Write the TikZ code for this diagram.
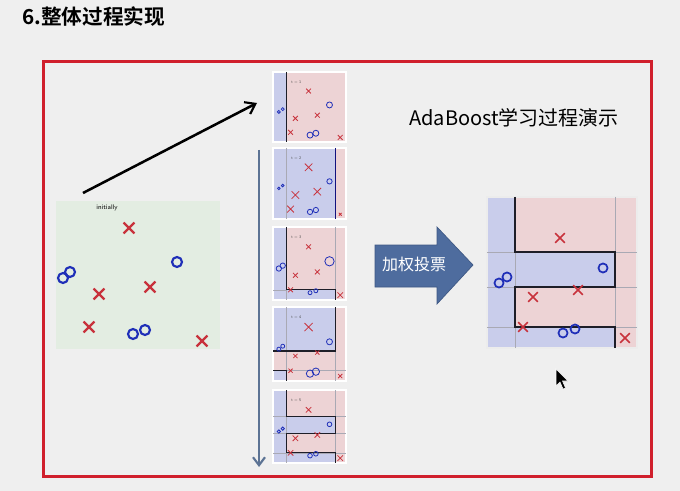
\documentclass[tikz,border=0pt]{standalone}
\usepackage{fontspec}
\newfontfamily\cjk{Noto Sans CJK SC}
\newfontfamily\cjkb{Noto Sans CJK SC Bold}
\usetikzlibrary{arrows.meta,shapes.misc}
\definecolor{bg}{HTML}{EFEFEF}
\definecolor{framec}{HTML}{D01F2C}
\definecolor{xred}{HTML}{C8323C}
\definecolor{oblue}{HTML}{1F2FB8}
\definecolor{pblue}{HTML}{C9CDEB}
\definecolor{ppink}{HTML}{EDD3D5}
\definecolor{pgreen}{HTML}{E3EDE2}
\definecolor{gridc}{HTML}{A9A9B4}
\definecolor{barrow}{HTML}{4E6C9E}
\definecolor{barrowd}{HTML}{3E5884}
\definecolor{varrow}{HTML}{5C7394}
\definecolor{bnd}{HTML}{1E1E28}
\newcount\mk
\def\lw{0.6pt}
\newcommand\mkX[4]{\global\advance\mk by 1 \node[cross out,draw=xred,inner sep=0pt,minimum size=#3,line width=#4] (m\the\mk) at (#1,#2) {};}
\newcommand\mkO[4]{\global\advance\mk by 1 \node[circle,draw=oblue,inner sep=0pt,minimum size=#3,line width=#4] (m\the\mk) at (#1,#2) {};}
\newcommand\pts[8]{%
  \mkX{73}{41}{#1pt}{\lw}
  \mkO{116}{71}{#2pt}{\lw}
  \mkO{12}{86}{#3pt}{\lw}\mkO{20}{80}{#3pt}{\lw}
  \mkX{46}{100}{#4pt}{\lw}
  \mkX{91}{93}{#5pt}{\lw}
  \mkX{36}{130}{#6pt}{\lw}
  \mkO{76}{136}{#7pt}{\lw}\mkO{88}{132}{#7pt}{\lw}
  \mkX{138}{141}{#8pt}{\lw}}
\tikzset{
  gridln/.style={draw=gridc,line width=0.4pt},
  bndln/.style={draw=bnd,line width=1pt,line join=miter},
  tlabel/.style={font=\sffamily\fontsize{3}{3}\selectfont,text=black!70,inner sep=0pt},
  pframe/.style={draw=white,line width=1.2pt}
}
\begin{document}
\begin{tikzpicture}[x=0.75pt,y=-0.75pt]
\fill[bg] (0,0) rectangle (680,491);
\useasboundingbox (0,0) rectangle (680,491);
% title
\node[anchor=west,inner sep=0pt,font=\cjkb\fontsize{15.5}{16}\selectfont] (title) at (22,17) {6.整体过程实现};
% red frame
\draw[framec,line width=2.25pt] (43,62) rectangle (651,476);
% left panel
\fill[pgreen] (56,201) rectangle (220,349);
\node[font=\sffamily\fontsize{5}{5}\selectfont,inner sep=0pt] (init) at (107,208) {initially};
\def\lw{1.6pt}
\mkX{129}{228}{6.5pt}{\lw}
\mkX{99}{294}{6.5pt}{\lw}
\mkX{150}{287}{6.5pt}{\lw}
\mkX{89}{327}{6.5pt}{\lw}
\mkX{202}{341}{6.5pt}{\lw}
\mkO{177}{262}{7.5pt}{\lw}
\mkO{63}{278}{7.5pt}{\lw}
\mkO{70}{272}{7.5pt}{\lw}
\mkO{133}{334}{7.5pt}{\lw}
\mkO{145}{330}{7.5pt}{\lw}
% black arrow
\coordinate (a1s) at (83,193);
\coordinate (a1e) at (257,103);
\draw[line width=1.9pt,-{Straight Barb[length=7pt,width=10pt,line width=1.6pt]}] (a1s) -- (a1e);
% vertical arrow
\coordinate (a2s) at (259,150);
\coordinate (a2e) at (259,467);
\draw[varrow,line width=1.9pt,-{Straight Barb[length=6pt,width=9pt,line width=1.6pt]}] (a2s) -- (a2e);
% ---------- small panel 1
\begin{scope}[shift={(273,72)},xscale=0.487,yscale=0.464]
  \fill[pblue] (0,0) rectangle (150,151);
  \fill[ppink] (28,0) rectangle (150,151);
  \draw[pframe] (0,0) rectangle (150,151);
  \draw[bndln] (28,0) -- (28,151);
  \node[tlabel] (t1) at (48,21) {t = 1};
  \def\lw{0.6pt}
  \pts{3}{4.5}{2.2}{3}{3}{3}{4.5}{3}
\end{scope}
% ---------- small panel 2
\begin{scope}[shift={(273,148)},xscale=0.487,yscale=0.470]
  \fill[pblue] (0,0) rectangle (150,151);
  \fill[ppink] (128,0) rectangle (150,151);
  \draw[pframe] (0,0) rectangle (150,151);
  \draw[gridln] (28,0) -- (28,151);
  \draw[bndln,draw=bnd!60!blue] (128,0) -- (128,151);
  \node[tlabel] (t2) at (48,21) {t = 2};
  \def\lw{0.6pt}
  \pts{5}{4}{2}{5}{5}{4.5}{4}{1.5}
\end{scope}
% ---------- small panel 3
\begin{scope}[shift={(273,227)},xscale=0.487,yscale=0.483]
  \fill[pblue] (0,0) rectangle (150,151);
  \fill[ppink] (28,0) -- (150,0) -- (150,151) -- (128,151) -- (128,130) -- (28,130) -- cycle;
  \draw[pframe] (0,0) rectangle (150,151);
  \draw[gridln] (28,130) -- (28,151) (0,130) -- (28,130) (128,0) -- (128,130);
  \draw[bndln] (28,0) -- (28,130) -- (128,130) -- (128,151);
  \node[tlabel] (t3) at (48,21) {t = 3};
  \def\lw{0.6pt}
  \pts{3}{7}{4}{3}{3}{3}{3}{3.5}
\end{scope}
% ---------- small panel 4
\begin{scope}[shift={(273,307)},xscale=0.487,yscale=0.490]
  \fill[ppink] (0,0) rectangle (150,151);
  \fill[pblue] (0,0) rectangle (128,90);
  \fill[pblue] (0,130) rectangle (28,151);
  \draw[pframe] (0,0) rectangle (150,151);
  \draw[gridln] (28,0) -- (28,151) (128,90) -- (128,151) (28,130) -- (150,130);
  \draw[bndln] (0,90) -- (128,90) -- (128,0);
  \draw[bndln] (0,130) -- (28,130) -- (28,151);
  \node[tlabel] (t4) at (48,21) {t = 4};
  \def\lw{0.6pt}
  \pts{5.5}{4.5}{3}{2.5}{2.5}{2.5}{5.5}{2.5}
\end{scope}
% ---------- small panel 5
\begin{scope}[shift={(273,390)},xscale=0.487,yscale=0.483]
  \fill[pblue] (0,0) rectangle (150,151);
  \fill[ppink] (28,0) -- (150,0) -- (150,151) -- (128,151) -- (128,130) -- (28,130) -- (28,90) -- (128,90) -- (128,55) -- (28,55) -- cycle;
  \draw[pframe] (0,0) rectangle (150,151);
  \draw[gridln] (128,0) -- (128,151) (0,55) -- (150,55) (0,90) -- (150,90) (0,130) -- (150,130) (28,0) -- (28,151);
  \draw[bndln] (28,0) -- (28,55) -- (128,55) -- (128,90) -- (28,90) -- (28,130) -- (128,130) -- (128,151);
  \node[tlabel] (t5) at (48,21) {t = 5};
  \def\lw{0.6pt}
  \pts{3.5}{3.5}{2.5}{3.5}{3.5}{3.5}{3.5}{3.5}
\end{scope}
% ---------- heading
\node[anchor=west,inner sep=0pt,font=\cjk\fontsize{15}{16}\selectfont] (head) at (409,118) {AdaBoost学习过程演示};
% ---------- block arrow
\fill[barrow,draw=barrowd,line width=0.5pt] (375,245) -- (437,245) -- (437,227) -- (473,265) -- (437,304) -- (437,287) -- (375,287) -- cycle;
\node[text=white,inner sep=0pt,font=\cjk\fontsize{12}{12}\selectfont] (vote) at (414,264) {加权投票};
% ---------- final panel
\begin{scope}[shift={(487,197)}]
  \fill[pblue] (0,0) rectangle (150,151);
  \fill[ppink] (28,0) -- (150,0) -- (150,151) -- (128,151) -- (128,130) -- (28,130) -- (28,90) -- (128,90) -- (128,55) -- (28,55) -- cycle;
  \draw[draw=white!85!gray,line width=0.8pt] (0,0) rectangle (150,151);
  \draw[gridln] (128,0) -- (128,151) (0,55) -- (150,55) (0,90) -- (150,90) (0,130) -- (150,130) (28,0) -- (28,151);
  \draw[bndln,line width=1.8pt] (28,0) -- (28,55) -- (128,55) -- (128,90) -- (28,90) -- (28,130) -- (128,130) -- (128,151);
  \def\lw{1.3pt}
  \pts{6}{6.8}{6.8}{6}{6}{6}{6.8}{6}
\end{scope}
% ---------- mouse cursor
\fill[black,draw=white,line width=0.4pt] (556,369) -- (556,386) -- (560,382) -- (563,389) -- (565.5,388) -- (562.5,381) -- (568,381) -- cycle;
\end{tikzpicture}
\end{document}
